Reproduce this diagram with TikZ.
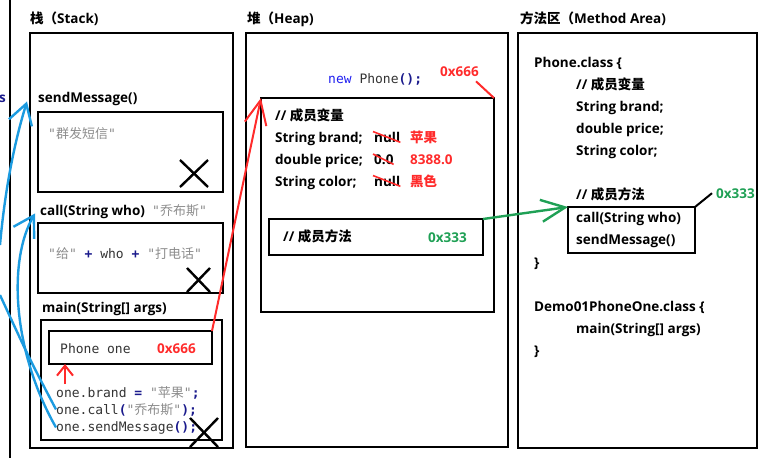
\documentclass[tikz,border=0pt]{standalone}
\usepackage{fontspec}
\setmainfont{Open Sans}
\setmonofont{DejaVu Sans Mono}
\newfontfamily\cjk{Noto Sans CJK SC}
\usetikzlibrary{arrows.meta,calc}

\definecolor{ptrred}{HTML}{FF2B2B}
\definecolor{linkgreen}{HTML}{1FA055}
\definecolor{callblue}{HTML}{1C9BE0}
\definecolor{strgray}{HTML}{8C8C8C}
\definecolor{navy}{HTML}{1A1A8C}
\definecolor{kwblue}{HTML}{1F1FF0}
\definecolor{codedark}{HTML}{333333}

\newcommand{\jstr}[1]{\textcolor{strgray}{"{\cjk #1}"}}
\newcommand{\jop}[1]{\textcolor{navy}{\bfseries #1}}

\begin{document}
\begin{tikzpicture}[x=1pt, y=-1pt,
    box/.style={draw, line width=2.2pt, anchor=north west, inner sep=0pt, outer sep=0pt},
    lbl/.style={anchor=base west, inner sep=0pt, font=\fontsize{13.5}{15}\selectfont\bfseries},
    code/.style={anchor=base west, inner sep=0pt, font=\fontsize{13}{15}\selectfont\ttfamily, text=codedark},
    cross/.style={line width=2.4pt},
    strike/.style={ptrred, line width=1.6pt},
    blueline/.style={callblue, line width=2.4pt},
    bluecall/.style={blueline, -{Straight Barb[length=20pt, width=24pt]}},
    redptr/.style={ptrred, line width=2pt, -{Straight Barb[length=24pt, width=22pt]}},
    greenptr/.style={linkgreen, line width=2.4pt, -{Straight Barb[length=24pt, width=22pt]}}]
    \useasboundingbox (0,0) rectangle (761,458);

    \draw[line width=2.4pt] (10,0) -- (10,458);
    \node[lbl, text=navy, anchor=base east] (cut) at (6,102) {s};

    % stack
    \node[lbl] (stacktitle) at (30,23) {{\cjk 栈（}Stack)};
    \node[box, minimum width=203pt, minimum height=415pt] (stack) at (30,33) {};
    \node[lbl] (sendlbl) at (38,102) {sendMessage()};
    \node[box, minimum width=185pt, minimum height=80pt] (sendframe) at (38,112) {};
    \node[code] (sendstr) at (48,138) {\jstr{群发短信}};
    \node[lbl] (calllbl) at (40,215) {call(String who)};
    \node[code] (callarg) at (152,215) {\jstr{乔布斯}};
    \node[box, minimum width=185pt, minimum height=70pt] (callframe) at (38,223) {};
    \node[code] (callstr) at (48,258) {\jstr{给} \jop{+} who \jop{+} \jstr{打电话}};
    \node[lbl] (mainlbl) at (42,312) {main(String[] args)};
    \node[box, minimum width=181pt, minimum height=120pt] (mainframe) at (41,320) {};
    \node[box, minimum width=163pt, minimum height=33pt] (phonebox) at (49,331) {};
    \node[code] (phonevar) at (60,353) {Phone one};
    \node[lbl, text=ptrred] (phoneaddr) at (157,353) {0x666};
    \node[code] (brandcode) at (56,397) {one.brand \jop{=} \jstr{苹果}\jop{;}};
    \node[code] (callcode) at (56,414) {one.call\jop{(}\jstr{乔布斯}\jop{);}};
    \node[code] (sendcode) at (56,431) {one.sendMessage\jop{();}};

    \draw[cross] (180,160) -- (208,187) (180,187) -- (208,160);
    \draw[cross] (187,268) -- (210,292) (187,292) -- (210,268);
    \draw[cross] (190,418) -- (218,447) (190,447) -- (218,418);

    % heap
    \node[lbl] (heaptitle) at (247,23) {{\cjk 堆（}Heap)};
    \node[box, minimum width=262pt, minimum height=414pt] (heap) at (246,33) {};
    \node[code] (newcode) at (328,83) {\textcolor{kwblue}{new} Phone\jop{();}};
    \node[lbl, text=ptrred] (heapaddr) at (440,76) {0x666};
    \node[box, minimum width=233pt, minimum height=214pt] (heapobj) at (261,98) {};
    \node[lbl] (varcmt) at (275,120) {// {\cjk 成员变量}};
    \node[lbl] (brandf) at (275,142) {String brand;};
    \node[lbl] (pricef) at (275,164) {double price;};
    \node[lbl] (colorf) at (275,186) {String color;};
    \node[lbl] (brandnull) at (374,142) {null};
    \node[lbl] (pricezero) at (374,164) {0.0};
    \node[lbl] (colornull) at (374,186) {null};
    \node[lbl, text=ptrred] (brandval) at (410,142) {{\cjk 苹果}};
    \node[lbl, text=ptrred] (priceval) at (410,164) {8388.0};
    \node[lbl, text=ptrred] (colorval) at (410,186) {{\cjk 黑色}};
    \node[box, minimum width=214pt, minimum height=36pt] (mbox) at (269,219) {};
    \node[lbl] (methcmt) at (283,241) {// {\cjk 成员方法}};
    \node[lbl, text=linkgreen] (methaddr) at (428,242) {0x333};

    \draw[strike] ([xshift=-1pt]brandnull.north west) -- (brandnull.south east);
    \draw[strike] ([xshift=-1pt]pricezero.north west) -- (pricezero.south east);
    \draw[strike] ([xshift=-1pt]colornull.north west) -- (colornull.south east);

    % method area
    \node[lbl] (mtitle) at (520,23) {{\cjk 方法区（}Method Area)};
    \node[box, minimum width=239pt, minimum height=415pt] (method) at (518,33) {};
    \node[lbl] (phoneclass) at (534,67) {Phone.class \{};
    \node[lbl] (cmtvar) at (576,89) {// {\cjk 成员变量}};
    \node[lbl] (fbrand) at (576,111) {String brand;};
    \node[lbl] (fprice) at (576,133) {double price;};
    \node[lbl] (fcolor) at (576,155) {String color;};
    \node[lbl] (cmtmeth) at (576,199) {// {\cjk 成员方法}};
    \node[box, minimum width=127pt, minimum height=46pt] (callbox) at (568,207) {};
    \node[lbl] (mcall) at (576,222) {call(String who)};
    \node[lbl] (msend) at (576,244) {sendMessage()};
    \node[lbl] (brace1) at (534,267) {\}};
    \node[lbl] (democlass) at (534,311) {Demo01PhoneOne.class \{};
    \node[lbl] (mmain) at (576,333) {main(String[] args)};
    \node[lbl] (brace2) at (534,355) {\}};
    \node[lbl, text=linkgreen] (addr333) at (716,198) {0x333};

    % pointers
    \draw[redptr] (phonebox.north east) -- (heapobj.north west);
    \coordinate (ptr) at (65,384);
    \draw[ptrred, line width=2pt, -{Straight Barb[length=10pt, width=16pt]}] (ptr) -- (ptr |- phonebox.south);
    \draw[ptrred, line width=2pt] (heapobj.north east) -- ([xshift=-3pt,yshift=-5pt]heapaddr.south east);
    \draw[greenptr] (mbox.north east) -- (callbox.north west);
    \draw[line width=2pt] (callbox.north east) -- ([xshift=-4pt]addr333.west);

    \coordinate (offA) at (0,295);
    \coordinate (offB) at (0,245);
    \draw[blueline] (callcode.west) .. controls (30,360) .. (offA);
    \draw[bluecall] (sendcode.west) .. controls (12,350) and (8,260) .. ([shift={(-5pt,-2pt)}]calllbl.west);
    \draw[bluecall] (offB) .. controls (4,200) and (12,150) .. ([shift={(-11pt,-3pt)}]sendlbl.west);
\end{tikzpicture}
\end{document}
